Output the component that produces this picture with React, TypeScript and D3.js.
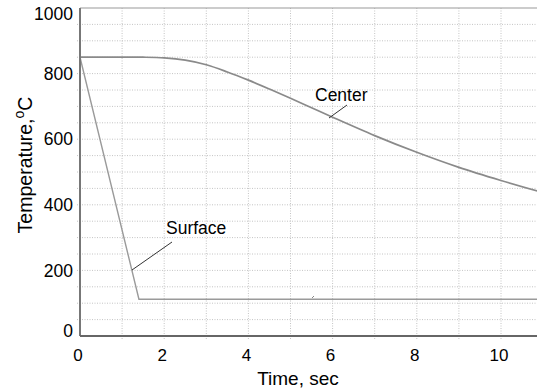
import React from "react";
import * as d3 from "d3";

const centerTime = [0, 1, 1.5, 2, 2.5, 3, 3.5, 4, 4.5, 5, 5.5, 6, 7, 8, 9, 10, 11];
const centerTemp = [850, 850, 850, 848, 841, 827, 805, 780, 753, 725, 696, 667, 611, 560, 514, 474, 437];
const surfaceTime = [0, 1.4, 11];
const surfaceTemp = [850, 112, 112];
const xTicks = [0, 2, 4, 6, 8, 10];
const yTicks = [0, 200, 400, 600, 800, 1000];

const W = 537;
const H = 392;
const left = 80;
const top = 8;
const bottom = 336;

export default function App() {
  const x = d3.scaleLinear().domain([0, 10]).range([left, 501]);
  const y = d3.scaleLinear().domain([0, 1000]).range([bottom, top]);

  const centerPts: [number, number][] = centerTime.map((t, i) => [t, centerTemp[i]]);
  const surfPts: [number, number][] = surfaceTime.map((t, i) => [t, surfaceTemp[i]]);

  const smooth = d3
    .line<[number, number]>()
    .x((d) => x(d[0]))
    .y((d) => y(d[1]))
    .curve(d3.curveCatmullRom.alpha(0.5));
  const straight = d3
    .line<[number, number]>()
    .x((d) => x(d[0]))
    .y((d) => y(d[1]));

  const hGrid = d3.range(50, 1000, 50);
  const vGrid = d3.range(1, 11, 1);
  const font = "Arial, 'Liberation Sans', sans-serif";

  return (
    <svg width={W} height={H} style={{ position: "absolute", left: 0, top: 0, background: "#fff" }}>
      <defs>
        <clipPath id="plot">
          <rect x={left} y={top - 2} width={W - left} height={bottom - top + 4} />
        </clipPath>
      </defs>
      {hGrid.map((v) => (
        <line key={"h" + v} x1={left - 3} x2={W} y1={y(v)} y2={y(v)} stroke="#c4c4c4" strokeWidth={1} strokeDasharray="1,1.5" />
      ))}
      {vGrid.map((v) => (
        <line key={"v" + v} x1={x(v)} x2={x(v)} y1={top} y2={bottom + 4} stroke="#c4c4c4" strokeWidth={1} strokeDasharray="1,1.5" />
      ))}
      <line x1={left} x2={W} y1={top} y2={top} stroke="#999" strokeWidth={1.2} />
      <g clipPath="url(#plot)">
        <path d={straight(surfPts) || ""} fill="none" stroke="#9a9a9a" strokeWidth={1.4} />
        <path d={smooth(centerPts) || ""} fill="none" stroke="#8a8a8a" strokeWidth={1.7} />
      </g>
      <line x1={left} x2={left} y1={top} y2={bottom} stroke="#777" strokeWidth={2} />
      <line x1={left} x2={W} y1={bottom} y2={bottom} stroke="#666" strokeWidth={2} />
      {yTicks.map((v) => (
        <text key={"yt" + v} x={73} y={Math.min(Math.max(y(v), 14), 331)} dy="0.35em" textAnchor="end" fontFamily={font} fontSize={17.5} fill="#000">
          {v}
        </text>
      ))}
      {xTicks.map((v) => (
        <text key={"xt" + v} x={x(v) - 2} y={355} dy="0.35em" textAnchor="middle" fontFamily={font} fontSize={17} fill="#000">
          {v}
        </text>
      ))}
      <text x={298} y={378} dy="0.35em" textAnchor="middle" fontFamily={font} fontSize={19} fill="#000">
        Time, sec
      </text>
      <text transform="translate(32,165) rotate(-90)" textAnchor="middle" fontFamily={font} fontSize={19.5} fill="#000">
        Temperature,
        <tspan dy="-8" fontSize={14}>o</tspan>
        <tspan dy="8">C</tspan>
      </text>
      <text x={315} y={101} fontFamily={font} fontSize={17.5} fill="#000">Center</text>
      <line x1={347} y1={105} x2={329} y2={118} stroke="#333" strokeWidth={1} />
      <text x={166} y={234} fontFamily={font} fontSize={17.5} fill="#000">Surface</text>
      <line x1={172} y1={242} x2={132} y2={270} stroke="#333" strokeWidth={1} />
      <line x1={312} y1={298} x2={314} y2={296} stroke="#888" strokeWidth={1} />
    </svg>
  );
}
